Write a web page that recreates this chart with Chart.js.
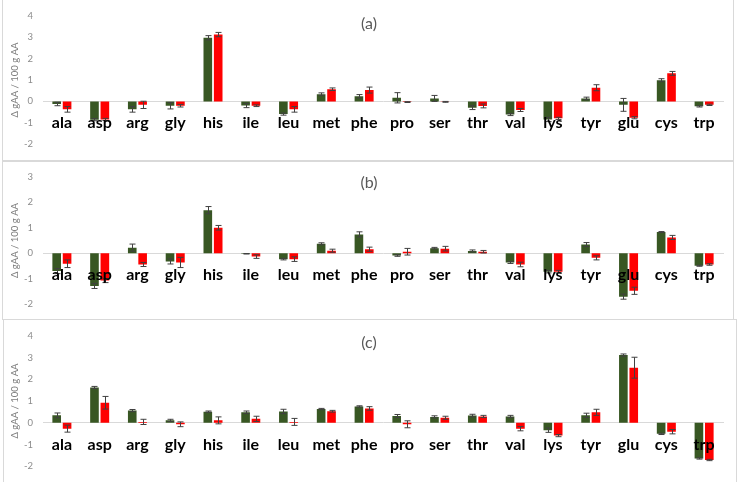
<!DOCTYPE html>
<html><head><meta charset="utf-8">
<script src="https://cdn.jsdelivr.net/npm/chart.js@4"></script>
<style>
html,body{margin:0;padding:0;background:#fff;width:738px;height:482px;overflow:hidden;font-family:Lato, sans-serif;}
.frame{position:absolute;border:1px solid #d9d9d9;box-sizing:border-box;}
.cv{position:absolute;left:0;}
.ptitle{position:absolute;font:16px Lato, sans-serif;color:#595959;transform:translate(-50%,-50%);white-space:nowrap;}
</style></head><body>
<div class="frame" style="left:2px;top:-1px;width:732px;height:162px"></div>
<div class="frame" style="left:2px;top:161px;width:732px;height:159px"></div>
<div class="frame" style="left:3px;top:319px;width:734px;height:165px"></div>
<div class="cv" style="top:0;width:738px;height:160px"><canvas id="ca"></canvas></div>
<div class="cv" style="top:161px;width:738px;height:159px"><canvas id="cb"></canvas></div>
<div class="cv" style="top:320px;width:738px;height:162px"><canvas id="cc"></canvas></div>
<div class="ptitle" style="left:369px;top:22px">(a)</div>
<div class="ptitle" style="left:369px;top:181px">(b)</div>
<div class="ptitle" style="left:369px;top:341px">(c)</div>
<script>
const categories = ['ala','asp','arg','gly','his','ile','leu','met','phe','pro','ser','thr','val','lys','tyr','glu','cys','trp'];
const seriesNames = ['Series 1','Series 2'];
const yTitle = 'Δ gAA / 100 g AA';

const aGreen    = [-0.12,-0.85,-0.37,-0.20, 2.97,-0.19,-0.59, 0.34, 0.24, 0.17, 0.14,-0.29,-0.61,-0.84, 0.14,-0.16, 0.99,-0.23];
const aGreenErr = [ 0.08, 0.05, 0.13, 0.15, 0.10, 0.10, 0.05, 0.06, 0.08, 0.24, 0.14, 0.09, 0.05, 0.10, 0.06, 0.30, 0.07, 0.03];
const aRed      = [-0.37,-0.84,-0.16,-0.20, 3.12,-0.20,-0.37, 0.57, 0.53,-0.03,-0.02,-0.21,-0.40,-0.79, 0.64,-0.76, 1.31,-0.16];
const aRedErr   = [ 0.13, 0.05, 0.17, 0.06, 0.10, 0.04, 0.13, 0.06, 0.14, 0.02, 0.02, 0.09, 0.07, 0.05, 0.14, 0.05, 0.09, 0.03];

const bGreen    = [-0.70,-1.28, 0.22,-0.32, 1.69,-0.02,-0.23, 0.37, 0.74,-0.09, 0.20, 0.09,-0.36,-0.72, 0.34,-1.70, 0.83,-0.49];
const bGreenErr = [ 0.10, 0.10, 0.14, 0.10, 0.14, 0.01, 0.03, 0.04, 0.10, 0.03, 0.03, 0.04, 0.04, 0.05, 0.08, 0.10, 0.02, 0.02];
const bRed      = [-0.41,-1.07,-0.44,-0.36, 1.00,-0.13,-0.23, 0.10, 0.16, 0.06, 0.18, 0.06,-0.44,-0.72,-0.18,-1.47, 0.62,-0.44];
const bRedErr   = [ 0.15, 0.08, 0.08, 0.20, 0.09, 0.07, 0.09, 0.06, 0.08, 0.13, 0.09, 0.05, 0.09, 0.05, 0.08, 0.14, 0.08, 0.03];

const cGreen    = [ 0.34, 1.62, 0.56, 0.11, 0.51, 0.48, 0.52, 0.63, 0.75, 0.31, 0.27, 0.33, 0.29,-0.34, 0.34, 3.11,-0.51,-1.64];
const cGreenErr = [ 0.11, 0.05, 0.05, 0.05, 0.03, 0.06, 0.10, 0.03, 0.03, 0.07, 0.05, 0.06, 0.05, 0.10, 0.10, 0.05, 0.03, 0.03];
const cRed      = [-0.27, 0.92, 0.04,-0.07, 0.11, 0.18, 0.04, 0.53, 0.66,-0.07, 0.23, 0.29,-0.27,-0.59, 0.48, 2.53,-0.41,-1.71];
const cRedErr   = [ 0.16, 0.29, 0.12, 0.11, 0.16, 0.12, 0.16, 0.04, 0.08, 0.16, 0.07, 0.05, 0.10, 0.05, 0.14, 0.48, 0.10, 0.03];

const GREEN = '#385723', RED = '#ff0000';

const errorBarPlugin = {
  id: 'errbars',
  afterDatasetsDraw(chart) {
    const ctx = chart.ctx, ys = chart.scales.y;
    chart.data.datasets.forEach((ds, di) => {
      const meta = chart.getDatasetMeta(di);
      meta.data.forEach((bar, i) => {
        const v = ds.data[i], e = ds.errors[i];
        const y1 = ys.getPixelForValue(v + e), y2 = ys.getPixelForValue(v - e);
        const x = Math.round(bar.x) + 0.5;
        ctx.save();
        ctx.strokeStyle = '#404040'; ctx.lineWidth = 1;
        ctx.beginPath();
        ctx.moveTo(x, y1); ctx.lineTo(x, y2);
        ctx.moveTo(x - 3, y1); ctx.lineTo(x + 3, y1);
        ctx.moveTo(x - 3, y2); ctx.lineTo(x + 3, y2);
        ctx.stroke();
        ctx.restore();
      });
    });
  }
};

function makeChart(id, green, greenErr, red, redErr, ymin, ymax, pad) {
  new Chart(document.getElementById(id), {
    type: 'bar',
    data: {
      labels: categories,
      datasets: [
        { label: seriesNames[0], data: green, errors: greenErr, backgroundColor: GREEN, categoryPercentage: 0.55, barPercentage: 0.83 },
        { label: seriesNames[1], data: red, errors: redErr, backgroundColor: RED, categoryPercentage: 0.55, barPercentage: 0.83 }
      ]
    },
    options: {
      responsive: true, maintainAspectRatio: false, animation: false,
      layout: { padding: pad },
      plugins: { legend: { display: false }, tooltip: { enabled: false } },
      scales: {
        x: {
          position: { y: 0 },
          grid: { display: false, drawTicks: false, z: -1 },
          border: { display: true, color: '#d9d9d9', width: 1, z: -1 },
          ticks: { z: 2, autoSkip: false, maxRotation: 0, padding: 12, color: '#000', font: { family: 'Lato', size: 16, weight: 'bold' } }
        },
        y: {
          min: ymin, max: ymax,
          afterFit(s) { s.width = 43; },
          grid: { display: false, drawTicks: false },
          border: { display: false },
          ticks: { stepSize: 1, padding: 10, color: '#8c8c8c', font: { family: 'Lato', size: 9.5 } },
          title: { display: true, text: yTitle, color: '#7f7f7f', font: { family: 'Lato', size: 9.5 }, padding: { top: 9, bottom: 0 } }
        }
      }
    },
    plugins: [errorBarPlugin]
  });
}

makeChart('ca', aGreen, aGreenErr, aRed, aRedErr, -2, 4, { left: 0, right: 15, top: 8, bottom: 11 });
makeChart('cb', bGreen, bGreenErr, bRed, bRedErr, -2, 3, { left: 0, right: 15, top: 7, bottom: 7 });
makeChart('cc', cGreen, cGreenErr, cRed, cRedErr, -2, 4, { left: 0, right: 15, top: 6, bottom: 10 });
</script>
</body></html>
